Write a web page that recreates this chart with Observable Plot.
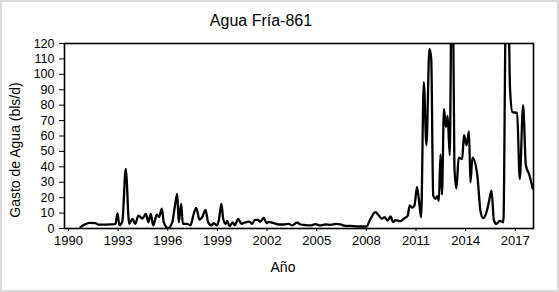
<!DOCTYPE html>
<html>
<head>
<meta charset="utf-8">
<script src="https://cdn.jsdelivr.net/npm/d3@7"></script>
<script src="https://cdn.jsdelivr.net/npm/@observablehq/plot@0.6"></script>
<style>
  html, body { margin: 0; padding: 0; background: #fff; }
  #wrap { position: relative; width: 559px; height: 292px; overflow: hidden; }
  #border { position: absolute; left: 0; top: 0; width: 559px; height: 292px; box-sizing: border-box; border: 2px solid #dadada; pointer-events: none; }
</style>
</head>
<body>
<div id="wrap"><div id="chart"></div><div id="border"></div></div>
<script>
const title = "Agua Fría-861";
const xLabel = "Año";
const yLabel = "Gasto de Agua (bls/d)";
const xTicks = [1990, 1993, 1996, 1999, 2002, 2005, 2008, 2011, 2014, 2017];
const yTicks = [0, 10, 20, 30, 40, 50, 60, 70, 80, 90, 100, 110, 120];

const years = [
  1990.73, 1990.97, 1991.27, 1991.63, 1991.81, 1992.24, 1992.84, 1992.96, 1993.08, 1993.26,
  1993.46, 1993.67, 1993.87, 1994.03, 1994.23, 1994.47, 1994.67, 1994.83, 1994.97, 1995.12,
  1995.34, 1995.48, 1995.64, 1995.76, 1996.02, 1996.27, 1996.42, 1996.57, 1996.66, 1996.81,
  1996.91, 1997.17, 1997.37, 1997.57, 1997.72, 1997.92, 1998.08, 1998.28, 1998.44, 1998.64,
  1998.78, 1998.98, 1999.08, 1999.24, 1999.35, 1999.49, 1999.59, 1999.73, 1999.93, 2000.05,
  2000.25, 2000.45, 2000.69, 2000.94, 2001.10, 2001.26, 2001.44, 2001.60, 2001.80, 2001.96,
  2002.10, 2002.40, 2002.71, 2003.01, 2003.31, 2003.52, 2003.82, 2004.02, 2004.32, 2004.62,
  2004.92, 2005.23, 2005.53, 2005.83, 2006.19, 2006.44, 2006.74, 2007.04, 2007.44, 2008.01,
  2008.25, 2008.55, 2008.75, 2008.95, 2009.09, 2009.29, 2009.46, 2009.62, 2009.76, 2010.06,
  2010.26, 2010.50, 2010.62, 2010.77, 2010.91, 2011.06, 2011.17, 2011.31, 2011.47, 2011.63,
  2011.81, 2011.92, 2012.04, 2012.17, 2012.28, 2012.38, 2012.48, 2012.57, 2012.69, 2012.81,
  2012.91, 2013.04, 2013.14, 2013.24, 2013.32, 2013.44, 2013.58, 2013.79, 2013.90, 2014.05,
  2014.20, 2014.29, 2014.41, 2014.70, 2014.90, 2015.06, 2015.26, 2015.40, 2015.56, 2015.71,
  2015.86, 2016.06, 2016.28, 2016.43, 2016.59, 2016.68, 2016.83, 2017.11, 2017.27, 2017.47,
  2017.64, 2017.84, 2018.05
];
const values = [
  1, 2.5, 3.7, 3.5, 2.5, 2.5, 2.8, 10, 2, 5,
  38.7, 3, 6.3, 3, 8.4, 6.5, 9.5, 4, 9.5, 2,
  9, 7.5, 12.8, 4, 0.3, 4, 13.8, 22.5, 4, 16,
  3, 3, 2, 9.5, 13.4, 5.6, 7.3, 12.1, 4, 2,
  3.5, 2, 5, 16, 6.3, 3, 5, 1.5, 4, 2,
  6.3, 3, 4, 4.5, 3, 5.6, 5.6, 4.3, 7, 3.5,
  4.3, 3.5, 2.6, 2.6, 3, 2, 3.9, 2.6, 2.2, 2,
  2.8, 2, 2.6, 2.4, 3, 2.6, 1.7, 1.7, 1.3, 1.3,
  6.3, 10.6, 8.4, 6.3, 7.3, 5.2, 7.8, 4.1, 5.4, 4.8,
  6.3, 8.4, 15, 13.6, 15, 27, 19, 7.3, 95, 54,
  116.5, 110, 21.4, 19.3, 21, 18, 48, 22, 77.6, 66,
  73, 47.5, 140, 140, 40, 26, 46, 45, 60.5, 54,
  63, 30, 46, 35, 11, 6.7, 10.6, 17, 24.6, 5.2,
  3, 5, 4, 140, 140, 90.7, 75.5, 75, 32, 80,
  41, 35, 26
];
const data = years.map((y, i) => ({year: y, value: values[i]}));

const chart = Plot.plot({
  width: 559,
  height: 292,
  marginLeft: 64,
  marginRight: 26,
  marginTop: 43,
  marginBottom: 64,
  style: {fontFamily: "'Liberation Sans', Arial, sans-serif", fontSize: "12px", color: "#000", background: "#fff"},
  x: {domain: [1989.76, 2018.1]},
  y: {domain: [0, 120]},
  marks: [
    Plot.line(data, {x: "year", y: "value", stroke: "#000", strokeWidth: 2.3, curve: "monotone-x", clip: true}),
    Plot.frame({stroke: "#000", strokeWidth: 1.6}),
    Plot.axisY({ticks: yTicks, tickSize: 5, tickPadding: 5, fontSize: 12.5, label: null, tickFormat: d => String(d)}),
    Plot.axisX({ticks: xTicks, tickSize: 3, tickPadding: 4, fontSize: 13, label: null, tickFormat: d => String(d)})
  ]
});
document.getElementById("chart").appendChild(chart);

const svg = d3.select(chart);
svg.append("text").attr("x", 261).attr("y", 26).attr("text-anchor", "middle")
  .attr("font-size", 16).attr("fill", "#000").text(title);
svg.append("text").attr("x", 283).attr("y", 272).attr("text-anchor", "middle")
  .attr("font-size", 14).attr("fill", "#000").text(xLabel);
svg.append("text").attr("transform", "translate(20,150) rotate(-90)").attr("text-anchor", "middle")
  .attr("font-size", 14).attr("fill", "#000").text(yLabel);
</script>
</body>
</html>
